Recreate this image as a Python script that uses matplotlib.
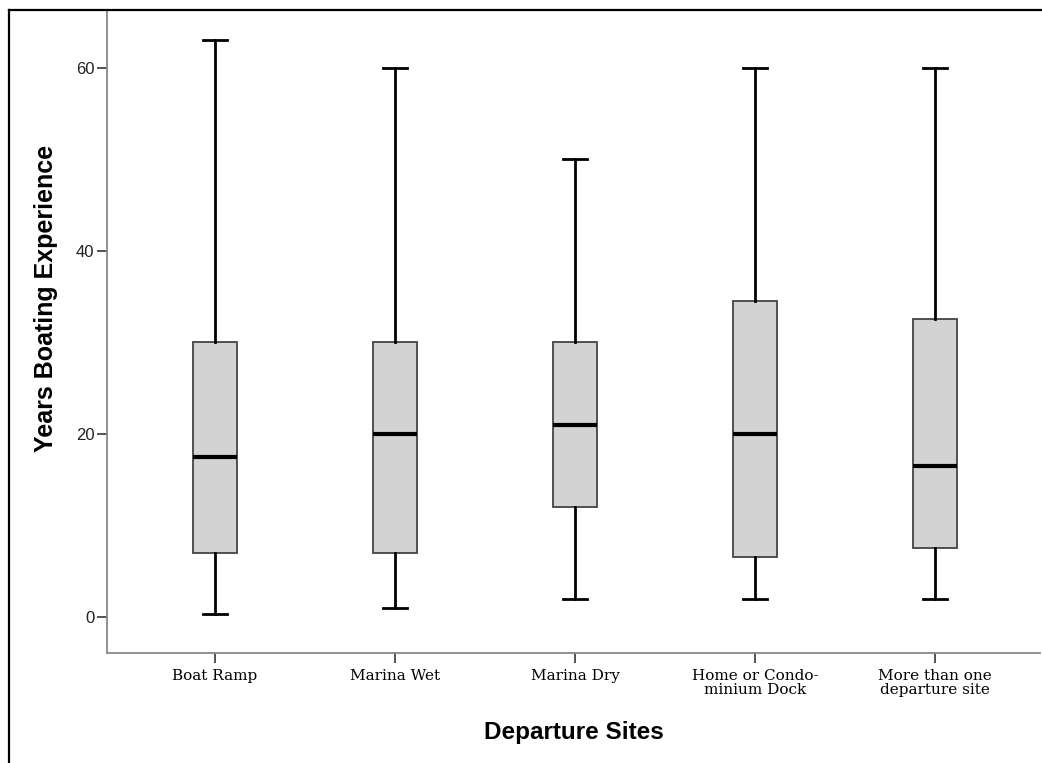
import matplotlib
matplotlib.use("Agg")
import matplotlib.pyplot as plt
from matplotlib.lines import Line2D

categories = ["Boat Ramp", "Marina Wet", "Marina Dry", "Home or Condo-\nminium Dock", "More than one\ndeparture site"]
whislo = [0.3, 1.0, 2.0, 2.0, 2.0]
q1 = [7.0, 7.0, 12.0, 6.5, 7.5]
med = [17.5, 20.0, 21.0, 20.0, 16.5]
q3 = [30.0, 30.0, 30.0, 34.5, 32.5]
whishi = [63.0, 60.0, 50.0, 60.0, 60.0]
yticks = [0, 20, 40, 60]

W, H = 1042, 763
fig = plt.figure(figsize=(W/100, H/100), dpi=100)
ax = fig.add_axes([107/W, 1-652.7/H, (1040-107)/W, (652.7-10)/H])

stats = [dict(whislo=a, q1=b, med=c, q3=d, whishi=e, fliers=[], label=l)
         for a, b, c, d, e, l in zip(whislo, q1, med, q3, whishi, categories)]
pos = list(range(1, len(categories)+1))
ax.bxp(stats, positions=pos, widths=0.245, patch_artist=True, showfliers=False,
       boxprops=dict(facecolor="#d3d3d3", edgecolor="#444444", linewidth=1.3),
       medianprops=dict(color="black", linewidth=3),
       whiskerprops=dict(color="black", linewidth=2),
       capprops=dict(color="black", linewidth=2),
       capwidths=0.13)

ax.set_xlim(0.4, 5.583)
ax.set_ylim(-3.9, 66.3)
ax.set_yticks(yticks)
ax.set_yticklabels([str(v) for v in yticks], fontsize=12, family="Liberation Sans", color="#222222")
ax.set_xticks(pos)
ax.set_xticklabels(categories, fontsize=11, family="DejaVu Serif", linespacing=0.95)
for s in ["top", "right"]:
    ax.spines[s].set_visible(False)
for s in ["left", "bottom"]:
    ax.spines[s].set_color("#888888")
    ax.spines[s].set_linewidth(1.3)
ax.tick_params(axis="y", length=7, width=1.3, color="#444444", pad=2)
ax.tick_params(axis="x", length=7, width=1.3, color="#444444", pad=5)

fig.text(46/W, 1-298/H, "Years Boating Experience", rotation=90, ha="center", va="center",
         fontsize=18, fontweight="bold", family="Liberation Sans")
fig.text(573.5/W, 1-721/H, "Departure Sites", ha="center", va="top",
         fontsize=17.5, fontweight="bold", family="Liberation Sans")

fig.add_artist(Line2D([9/W, 1.0], [1-10/H, 1-10/H], transform=fig.transFigure, color="black", linewidth=1.6))
fig.add_artist(Line2D([9/W, 9/W], [0, 1-10/H], transform=fig.transFigure, color="black", linewidth=1.6))

fig.savefig("out.png", dpi=100)
